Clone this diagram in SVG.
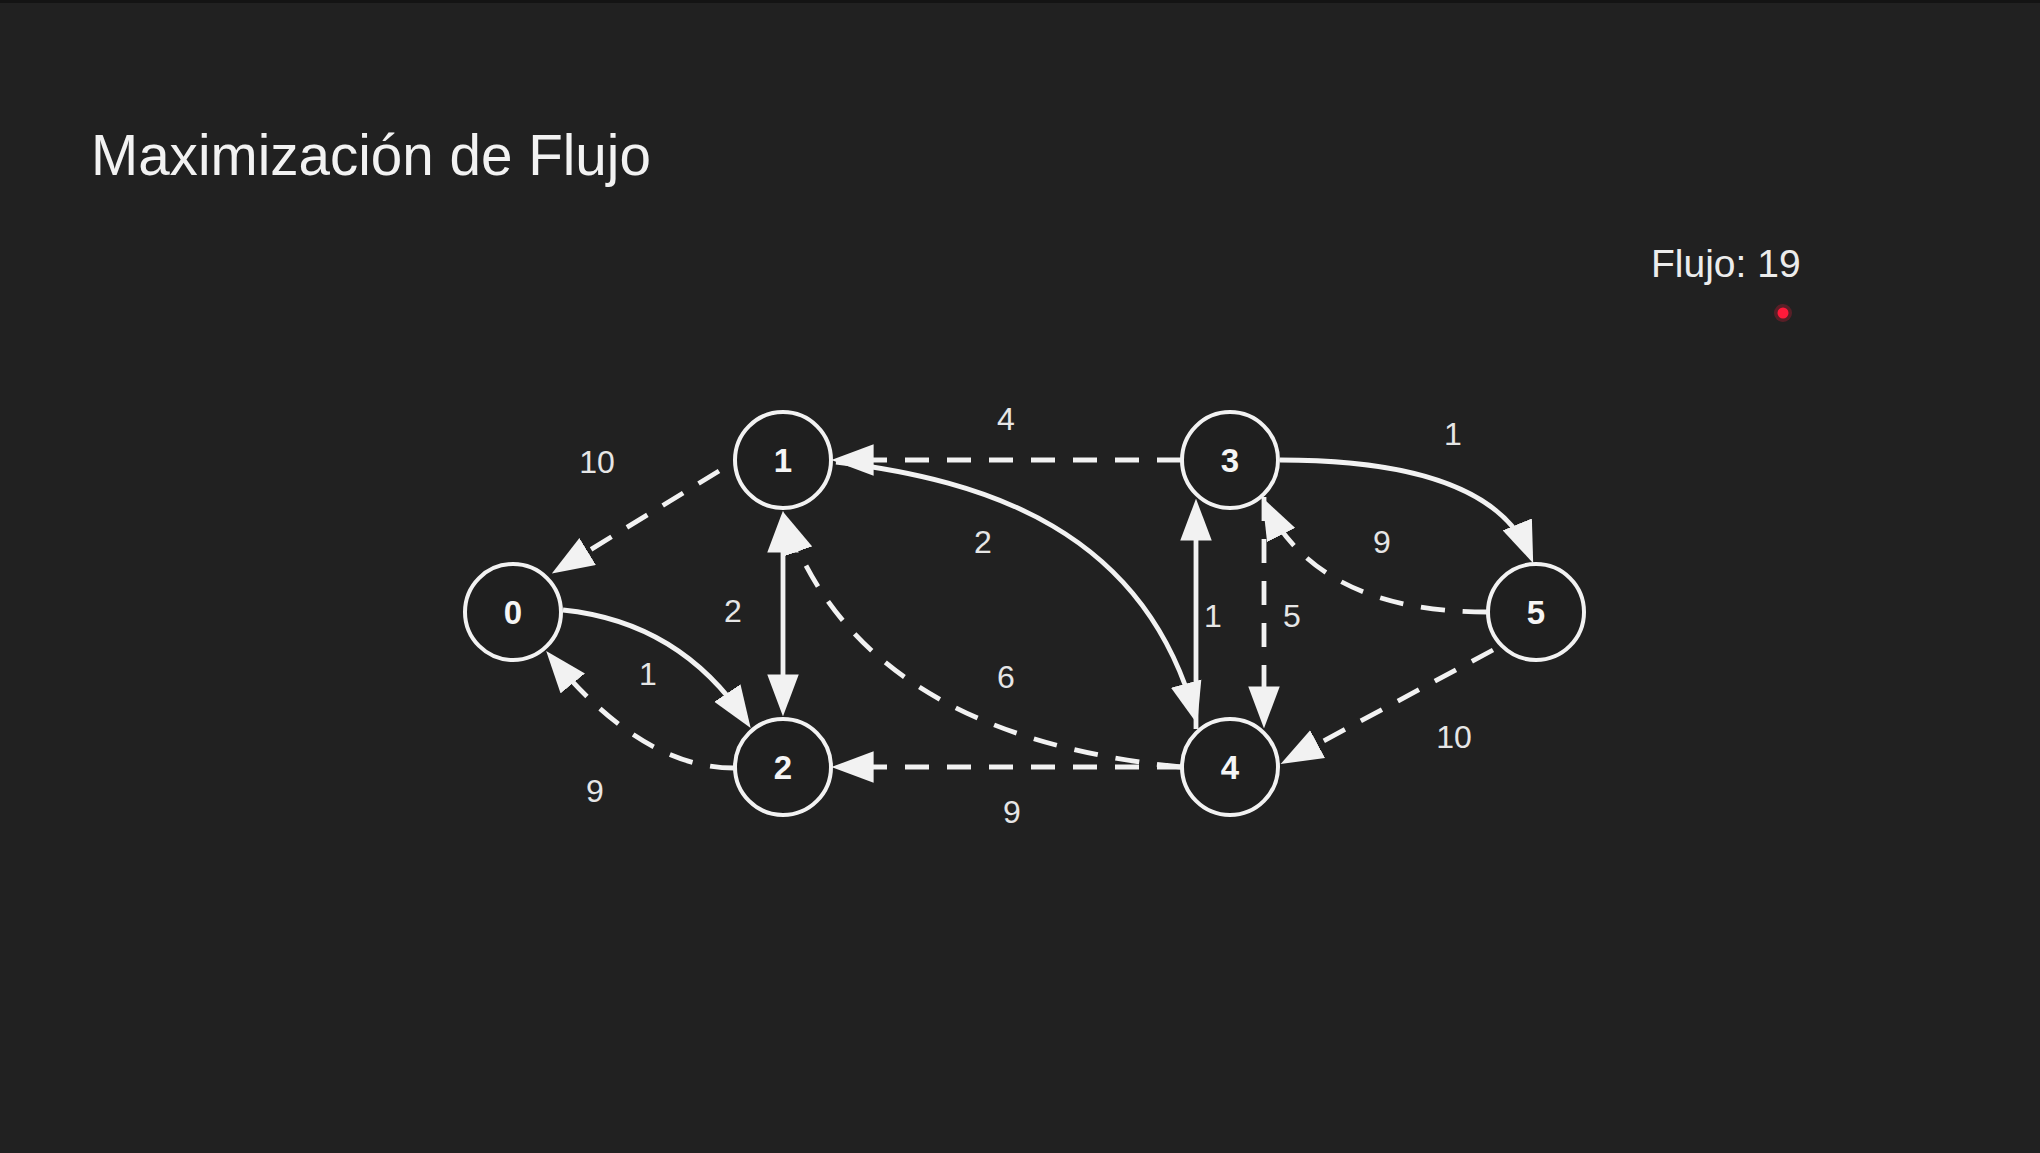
<svg xmlns="http://www.w3.org/2000/svg" width="2040" height="1153" viewBox="0 0 2040 1153">
<style>
.bg{fill:#212121}
.node circle{fill:#1f1f1f;stroke:#f2f2f2;stroke-width:4}
.node text{font-family:"Liberation Sans",Arial,sans-serif;font-weight:bold;font-size:33px;fill:#f5f5f5;text-anchor:middle}
.e{fill:none;stroke:#f2f2f2;stroke-width:4.8}
.d{stroke-dasharray:24 18}
.lbl{font-family:"Liberation Sans",Arial,sans-serif;font-size:32px;fill:#e6e6e6;text-anchor:middle}
.title{font-family:"Liberation Sans",Arial,sans-serif;font-size:56.6px;fill:#f2f2f2}
.flow{font-family:"Liberation Sans",Arial,sans-serif;font-size:39px;fill:#ececec}
</style>
<defs>
<marker id="ah" markerUnits="userSpaceOnUse" markerWidth="42" markerHeight="32" viewBox="0 0 40 30" refX="32" refY="15" orient="auto-start-reverse">
<path d="M0,0 L40,15 L0,30 z" fill="#f2f2f2"/>
</marker>
</defs>
<rect class="bg" x="0" y="0" width="2040" height="1153"/>
<rect x="0" y="0" width="2040" height="3" fill="#141414"/>
<text class="title" x="91" y="175">Maximización de Flujo</text>
<text class="flow" x="1651" y="277">Flujo: 19</text>
<circle cx="1783" cy="313" r="9" fill="#ff1a3a" opacity="0.25"/>
<circle cx="1783" cy="313" r="5.5" fill="#ff1a3a"/>
<g id="connectors">
<path class="e d" d="M719,471 L559,569" marker-end="url(#ah)"/>
<path class="e" d="M563,610 Q680,622 746,721" marker-end="url(#ah)"/>
<path class="e d" d="M734,768 Q642,768 551.5,657.4" marker-end="url(#ah)"/>
<path class="e" d="M783,519 L783,708" marker-start="url(#ah)" marker-end="url(#ah)"/>
<path class="e d" d="M1181,460 L840,460" marker-end="url(#ah)"/>
<path class="e" d="M836,462 C986,480 1144,530 1195,716" marker-end="url(#ah)"/>
<path class="e d" d="M1181,767 Q862,735 786,520" marker-end="url(#ah)"/>
<path class="e d" d="M1181,767 L840,767" marker-end="url(#ah)"/>
<path class="e" d="M1196,729 L1196,507" marker-end="url(#ah)"/>
<path class="e d" d="M1264,497 L1264,720" marker-end="url(#ah)"/>
<path class="e" d="M1280,460 Q1491,460 1530,555.5" marker-end="url(#ah)"/>
<path class="e d" d="M1487,612 Q1320,612 1266,505" marker-end="url(#ah)"/>
<path class="e d" d="M1493,650 L1288,760" marker-end="url(#ah)"/>
<text class="lbl" x="597" y="473">10</text>
<text class="lbl" x="648" y="685">1</text>
<text class="lbl" x="595" y="802">9</text>
<text class="lbl" x="733" y="622">2</text>
<text class="lbl" x="1006" y="430">4</text>
<text class="lbl" x="983" y="553">2</text>
<text class="lbl" x="1006" y="688">6</text>
<text class="lbl" x="1012" y="823">9</text>
<text class="lbl" x="1213" y="627">1</text>
<text class="lbl" x="1292" y="627">5</text>
<text class="lbl" x="1453" y="445">1</text>
<text class="lbl" x="1382" y="553">9</text>
<text class="lbl" x="1454" y="748">10</text>
</g>
<g id="node0" class="node"><circle cx="513" cy="612" r="48"/><text x="513" y="624">0</text></g>
<g id="node1" class="node"><circle cx="783" cy="460" r="48"/><text x="783" y="472">1</text></g>
<g id="node2" class="node"><circle cx="783" cy="767" r="48"/><text x="783" y="779">2</text></g>
<g id="node3" class="node"><circle cx="1230" cy="460" r="48"/><text x="1230" y="472">3</text></g>
<g id="node4" class="node"><circle cx="1230" cy="767" r="48"/><text x="1230" y="779">4</text></g>
<g id="node5" class="node"><circle cx="1536" cy="612" r="48"/><text x="1536" y="624">5</text></g>
</svg>
